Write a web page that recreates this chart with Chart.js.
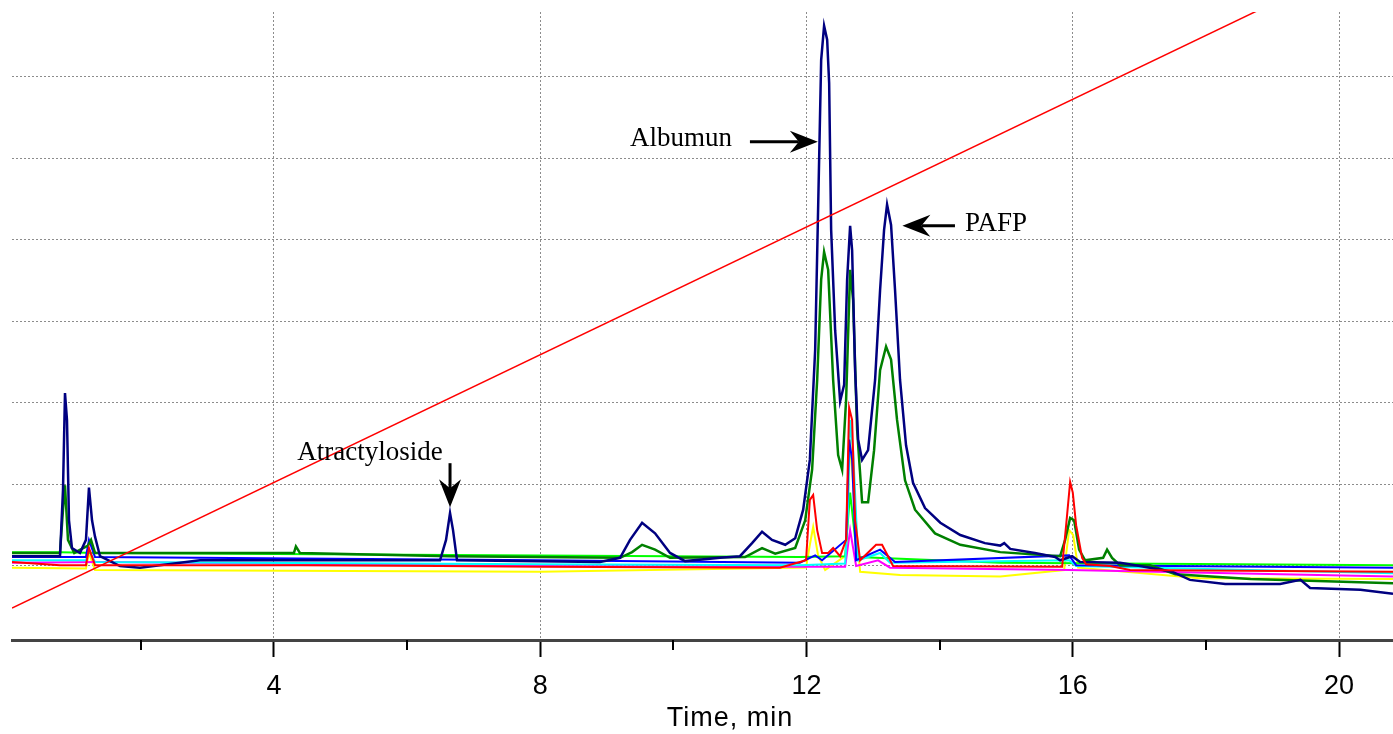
<!DOCTYPE html>
<html>
<head>
<meta charset="utf-8">
<script src="https://cdn.jsdelivr.net/npm/chart.js@4.4.1/dist/chart.umd.min.js"></script>
<style>
  body { margin: 0; background: #fff; }
  canvas { display: block; }
</style>
</head>
<body>
<canvas id="chroma" width="1393" height="734"></canvas>
<script>
// time (min) / signal pairs, one list per trace
var navyTrace = [[0.065,0.12],[0.786,0.12],[0.831,0.93],[0.861,2.12],[0.891,1.79],[0.921,0.56],[0.966,0.22],[1.086,0.16],[1.176,0.32],[1.221,0.96],[1.267,0.56],[1.312,0.36],[1.387,0.12],[1.687,0],[1.988,-0.02],[2.889,0.07],[6.495,0.07],[6.585,0.32],[6.645,0.65],[6.69,0.44],[6.75,0.07],[8.898,0.05],[9.199,0.10],[9.349,0.32],[9.53,0.53],[9.725,0.40],[9.95,0.16],[10.176,0.06],[10.7,0.10],[11.0,0.12],[11.182,0.28],[11.332,0.42],[11.482,0.32],[11.68,0.26],[11.83,0.34],[11.95,0.69],[12.05,1.30],[12.13,2.65],[12.174,4.37],[12.22,6.20],[12.264,6.62],[12.31,6.45],[12.34,5.92],[12.37,4.12],[12.43,2.89],[12.505,2.02],[12.565,2.22],[12.61,3.51],[12.655,4.17],[12.685,3.87],[12.73,2.40],[12.775,1.55],[12.835,1.30],[12.925,1.42],[13.03,2.28],[13.105,3.38],[13.165,4.12],[13.21,4.43],[13.27,4.18],[13.33,3.38],[13.405,2.28],[13.495,1.48],[13.6,1.02],[13.78,0.71],[14.01,0.53],[14.31,0.38],[14.68,0.28],[14.91,0.25],[14.97,0.28],[15.06,0.21],[15.43,0.16],[15.735,0.11],[15.81,0.07],[15.99,0.12],[16.11,0.05],[16.71,0.04],[17.01,0],[17.49,-0.07],[17.76,-0.17],[18.29,-0.22],[19.115,-0.22],[19.42,-0.17],[19.565,-0.27],[20.32,-0.29],[20.81,-0.34]];
var greenTrace = [[0.065,0.16],[0.786,0.16],[0.831,0.69],[0.861,0.99],[0.906,0.32],[1.0,0.16],[1.206,0.25],[1.252,0.32],[1.312,0.16],[2.889,0.16],[4.30,0.16],[4.33,0.24],[4.39,0.16],[6.645,0.12],[9.199,0.10],[9.38,0.17],[9.53,0.26],[9.725,0.20],[9.95,0.10],[11.077,0.11],[11.332,0.22],[11.53,0.15],[11.83,0.22],[11.98,0.56],[12.084,1.18],[12.16,2.28],[12.22,3.51],[12.264,3.85],[12.325,3.63],[12.4,2.28],[12.475,1.36],[12.535,1.18],[12.595,2.04],[12.655,3.63],[12.7,3.26],[12.76,1.67],[12.835,0.78],[12.925,0.78],[13.015,1.42],[13.105,2.40],[13.195,2.69],[13.27,2.53],[13.36,1.79],[13.48,1.05],[13.63,0.69],[13.93,0.40],[14.31,0.26],[14.91,0.17],[15.81,0.12],[15.885,0.32],[15.96,0.59],[16.02,0.56],[16.095,0.20],[16.185,0.07],[16.456,0.10],[16.515,0.20],[16.59,0.10],[16.71,0.01],[17.16,0.01],[17.54,-0.10],[18.67,-0.16],[20.81,-0.21]];
var redTrace = [[0.065,0.05],[0.786,0.01],[1.176,0.01],[1.221,0.22],[1.312,0.01],[4.391,0.01],[6.495,0],[8.0,-0.01],[11.6,-0.02],[11.993,0.07],[12.05,0.81],[12.1,0.87],[12.16,0.44],[12.234,0.16],[12.325,0.16],[12.4,0.22],[12.505,0.12],[12.595,0.32],[12.64,1.94],[12.685,1.79],[12.73,0.56],[12.805,0.07],[13.045,0.26],[13.135,0.26],[13.225,0.12],[13.3,0.0],[15.84,-0.01],[15.9,0.5],[15.96,1.03],[16.0,0.9],[16.05,0.5],[16.14,0.1],[16.2,0.02],[16.56,0.0],[16.86,-0.05],[20.81,-0.07]];
var yellowTrace = [[0.065,-0.02],[1.176,-0.03],[1.221,0.16],[1.312,-0.05],[8.0,-0.07],[11.993,-0.02],[12.05,0.26],[12.1,0.48],[12.174,0.13],[12.28,-0.05],[12.595,0.13],[12.655,1.55],[12.715,0.81],[12.805,-0.07],[13.405,-0.11],[14.91,-0.13],[15.87,-0.05],[15.945,0.44],[16.005,0.38],[16.08,-0.02],[17.91,-0.15],[20.81,-0.16]];
var cyanTrace = [[0.065,0.07],[1.176,0.07],[1.221,0.20],[1.312,0.05],[8.0,0.02],[11.9,0.01],[12.58,0.03],[12.62,0.60],[12.655,1.79],[12.7,1.42],[12.775,0.07],[13.105,0.16],[13.255,0.04],[15.945,0.07],[16.05,0.0],[20.81,-0.09]];
var blueTrace = [[0.065,0.11],[1.176,0.11],[1.221,0.32],[1.312,0.11],[8.0,0.07],[11.9,0.04],[12.13,0.13],[12.234,0.07],[12.595,0.32],[12.64,1.55],[12.685,1.30],[12.745,0.07],[13.105,0.20],[13.33,0.05],[15.945,0.13],[16.05,0.01],[20.81,-0.02]];
var magentaTrace = [[0.065,0.04],[1.387,0.05],[8.0,0],[11.9,-0.01],[12.58,-0.01],[12.655,0.44],[12.745,0],[13.075,0.07],[13.255,-0.02],[15.945,-0.05],[20.81,-0.13]];
var limeTrace = [[0.065,0.17],[0.786,0.17],[1.387,0.16],[8.0,0.13],[11.9,0.11],[12.58,0.12],[12.655,0.90],[12.7,0.56],[12.76,0.11],[14.91,0.04],[20.81,0.01]];
// solvent gradient line
var gradientLine = [[0.065,-0.515],[18.81,6.82]];

var majorTicks = [4, 8, 12, 16, 20];
var minorTicks = [2, 6, 10, 14, 18];
var gridRows = [0, 1, 2, 3, 4, 5, 6];

// annotation text and arrows, in data units
var peakLabels = [
  {text: 'Albumun', x: 9.35, y: 5.15},
  {text: 'PAFP', x: 14.38, y: 4.11},
  {text: 'Atractyloside', x: 4.35, y: 1.30}
];
var peakArrows = [
  {from: [11.15, 5.2], to: [12.17, 5.2]},
  {from: [14.23, 4.17], to: [13.44, 4.17]},
  {from: [6.645, 1.26], to: [6.645, 0.72]}
];

function toXY(list) {
  return list.map(function(p){ return {x: p[0], y: p[1]}; });
}
function trace(list, color, width) {
  return {
    data: toXY(list),
    borderColor: color,
    borderWidth: width,
    pointRadius: 0,
    tension: 0,
    fill: false
  };
}

function drawArrow(ctx, x1, y1, x2, y2) {
  var ang = Math.atan2(y2 - y1, x2 - x1);
  var len = 28, half = 11, notch = 19;
  var cos = Math.cos(ang), sin = Math.sin(ang);
  ctx.beginPath();
  ctx.moveTo(x1, y1);
  ctx.lineTo(x2 - cos * notch, y2 - sin * notch);
  ctx.lineWidth = 3;
  ctx.stroke();
  ctx.beginPath();
  ctx.moveTo(x2, y2);
  ctx.lineTo(x2 - cos * len - sin * half, y2 - sin * len + cos * half);
  ctx.lineTo(x2 - cos * notch, y2 - sin * notch);
  ctx.lineTo(x2 - cos * len + sin * half, y2 - sin * len - cos * half);
  ctx.closePath();
  ctx.fill();
}

var extras = {
  id: 'extras',
  afterDraw: function(chart) {
    var ctx = chart.ctx;
    var xs = chart.scales.x, ys = chart.scales.y;
    var bottom = chart.chartArea.bottom;
    ctx.save();
    // short minor ticks
    ctx.strokeStyle = '#000';
    ctx.lineWidth = 2;
    minorTicks.forEach(function(t){
      var px = Math.round(xs.getPixelForValue(t));
      ctx.beginPath();
      ctx.moveTo(px, bottom);
      ctx.lineTo(px, bottom + 10);
      ctx.stroke();
    });
    // axis title
    ctx.fillStyle = '#000';
    ctx.font = "27px 'Liberation Sans Narrow', 'Liberation Sans', sans-serif";
    ctx.textAlign = 'center';
    ctx.textBaseline = 'middle';
    try { ctx.letterSpacing = '1px'; } catch (e) {}
    ctx.fillText('Time, min', 730, 719);
    try { ctx.letterSpacing = '0px'; } catch (e) {}
    // peak labels and arrows
    ctx.font = "27px 'Liberation Serif', serif";
    ctx.textAlign = 'left';
    ctx.textBaseline = 'alphabetic';
    peakLabels.forEach(function(l){
      ctx.fillText(l.text, xs.getPixelForValue(l.x), ys.getPixelForValue(l.y));
    });
    ctx.strokeStyle = '#000';
    peakArrows.forEach(function(a){
      drawArrow(ctx,
        xs.getPixelForValue(a.from[0]), ys.getPixelForValue(a.from[1]),
        xs.getPixelForValue(a.to[0]), ys.getPixelForValue(a.to[1]));
    });
    ctx.restore();
  }
};

var chart = new Chart(document.getElementById('chroma').getContext('2d'), {
  type: 'line',
  data: {
    datasets: [
      trace(gradientLine, '#ff0000', 1.5),
      trace(redTrace, '#ff0000', 2),
      trace(navyTrace, '#000080', 2.5),
      trace(greenTrace, '#008000', 2.5),
      trace(blueTrace, '#0000ff', 2),
      trace(cyanTrace, '#00ffff', 2),
      trace(limeTrace, '#00ff00', 2),
      trace(magentaTrace, '#ff00ff', 2),
      trace(yellowTrace, '#ffff00', 2)
    ]
  },
  options: {
    responsive: false,
    animation: false,
    events: [],
    layout: { padding: { left: 12, top: 12, right: 0, bottom: 0 } },
    plugins: { legend: { display: false }, tooltip: { enabled: false } },
    scales: {
      x: {
        type: 'linear',
        min: 0.065,
        max: 20.81,
        afterBuildTicks: function(s){ s.ticks = minorTicks.concat(majorTicks).sort(function(a,b){return a-b;}).map(function(v){ return {value: v}; }); },
        afterFit: function(s){ s.height = 94; },
        grid: {
          color: function(c){ return c.tick && majorTicks.indexOf(c.tick.value) >= 0 ? '#8c8c8c' : 'transparent'; },
          lineWidth: 1,
          drawTicks: true,
          tickLength: 17,
          tickWidth: 2,
          tickColor: function(c){ return c.tick && majorTicks.indexOf(c.tick.value) >= 0 ? '#000' : 'transparent'; }
        },
        border: { display: true, color: '#444', width: 3, dash: [2, 2] },
        ticks: {
          autoSkip: false,
          maxRotation: 0,
          padding: 13,
          color: '#000',
          font: { family: "'Liberation Sans Narrow', 'Liberation Sans', sans-serif", size: 27 },
          callback: function(v){ return majorTicks.indexOf(v) >= 0 ? String(v) : ''; }
        }
      },
      y: {
        type: 'linear',
        min: -0.907,
        max: 6.79,
        afterBuildTicks: function(s){ s.ticks = gridRows.map(function(v){ return {value: v}; }); },
        afterFit: function(s){ s.width = 0; },
        grid: { color: '#8c8c8c', lineWidth: 1, drawTicks: false },
        border: { display: false, dash: [2, 2] },
        ticks: { display: false }
      }
    }
  },
  plugins: [extras]
});
</script>
</body>
</html>
